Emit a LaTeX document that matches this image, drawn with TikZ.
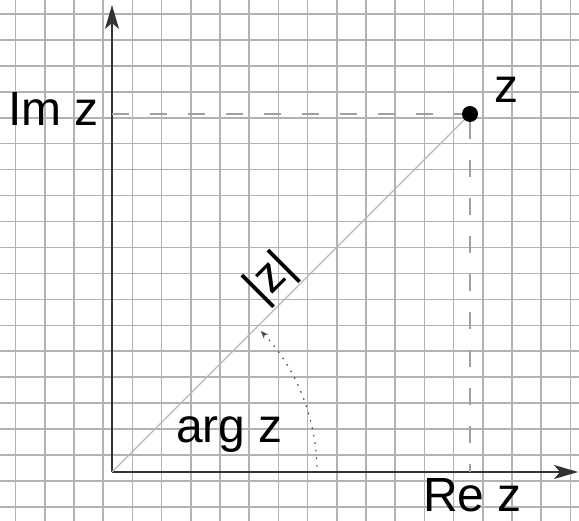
\documentclass[tikz,border=0pt]{standalone}
\usepackage{fontspec}
\setmainfont{Liberation Sans}
\usetikzlibrary{arrows.meta,positioning}

\begin{document}
\begin{tikzpicture}[x=1pt,y=1pt,
  gridline/.style={draw=gray!60,line width=1.6pt},
  axis/.style={draw=black!80,line width=1.3pt,-{Stealth[length=24pt,width=14pt,inset=6pt]}},
  proj/.style={draw=gray!75,line width=1.2pt,dash pattern=on 17pt off 21pt},
  ray/.style={draw=gray!55,line width=1.4pt},
  argarc/.style={draw=black!70,line width=1.2pt,dash pattern=on 1.6pt off 6pt,
    -{Stealth[length=8pt,width=6pt]}},
  lbl/.style={inner sep=0pt,font=\fontsize{48}{56}\selectfont},
  zdot/.style={circle,fill=black,minimum size=16pt,inner sep=0pt}
]
  \useasboundingbox (0,0) rectangle (579,521);
  % squared paper
  \foreach \i in {0,...,19}
    \draw[gridline] ({15.5+29.2*\i},0) -- ({15.5+29.2*\i},521);
  \foreach \j in {0,...,19}
    \draw[gridline] (0,{14+25.95*\j}) -- (579,{14+25.95*\j});

  \coordinate (O) at (112,49);
  \coordinate (xend) at (578,49);
  \coordinate (yend) at (112,516);
  \coordinate (imref) at (112,407);
  \coordinate (reref) at (470,49);
  \coordinate (argstart) at ([shift={(1.5:205)}]O);
  \node[zdot] (zpt) at (470,407) {};

  \draw[axis] (O) -- (xend);
  \draw[axis] (O) -- (yend);
  \draw[proj] (imref) -- (zpt);
  \draw[proj] (zpt) -- (reref);
  \draw[ray] (O) -- (zpt) node[lbl,midway,sloped,above,inner sep=1pt] (modz) {|z|};
  \draw[argarc] (argstart) arc[start angle=1.5,end angle=43.5,radius=205];

  \node[lbl,anchor=base west] (imz) at (8,395) {Im z};
  \node[lbl,anchor=base west] (rez) at (423,9) {Re z};
  \node[lbl,anchor=base west] (argz) at (176,78) {arg z};
  \node[lbl,above right=5pt and 18pt of zpt] (zlbl) {z};
\end{tikzpicture}
\end{document}
